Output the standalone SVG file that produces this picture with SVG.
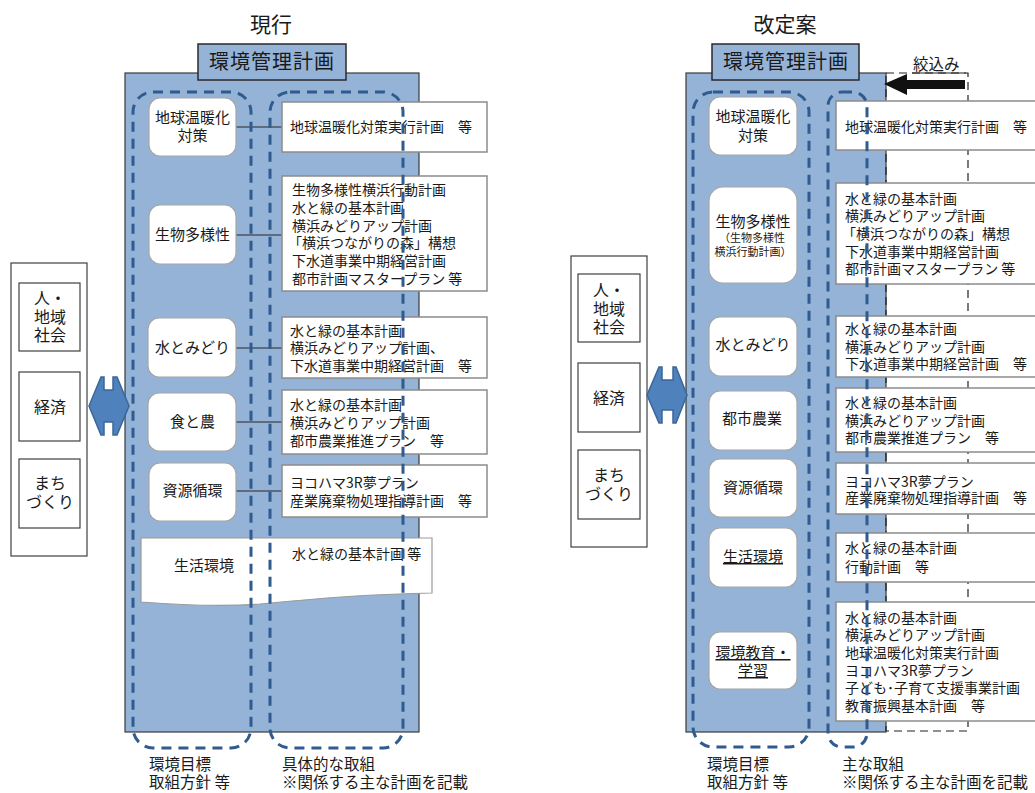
<svg xmlns="http://www.w3.org/2000/svg" width="1035" height="793" viewBox="0 0 1035 793">
<defs>
<style>
text{font-family:"Noto Sans CJK JP","Noto Sans",sans-serif;fill:#1a1a1a}
.t21{font-size:21px;text-anchor:middle}
.hd{font-size:20px;text-anchor:middle;letter-spacing:1px}
.n15{font-size:15px;text-anchor:middle}
.n11{font-size:11px;text-anchor:middle}
.p14{font-size:14px}
.s16{font-size:16px;text-anchor:middle}
.b16{font-size:15.5px}
.blue{fill:#95b3d7;stroke:#3a3a3a;stroke-width:1.2}
.head{fill:#95b3d7;stroke:#2a2a2a;stroke-width:1.5}
.node{fill:#fff;stroke:#a6a6a6;stroke-width:1.2}
.plan{fill:#fff;stroke:#8c8c8c;stroke-width:1.5}
.box{fill:#fff;stroke:#404040;stroke-width:1.2}
.grp{fill:none;stroke:#2f5b8f;stroke-width:3;stroke-dasharray:10 7}
.con{stroke:#262626;stroke-width:1.2}
.arr{fill:#4f81bd;stroke:#3b6698;stroke-width:1.5}
.ul{text-decoration:underline}
</style>
</defs>

<!-- ================= LEFT PANEL (現行) ================= -->
<text class="t21" x="271" y="32">現行</text>
<rect class="blue" x="125" y="73" width="294" height="659"/>
<g id="L-header"><rect class="head" x="198" y="44" width="148" height="36"/><text class="hd" x="272" y="69">環境管理計画</text></g>

<g id="L-society">
<rect class="box" x="11" y="263" width="76" height="293"/>
<rect class="box" x="19" y="283" width="61" height="68"/>
<text class="s16"><tspan x="50" y="304">人・</tspan><tspan x="50" y="323">地域</tspan><tspan x="50" y="341">社会</tspan></text>
<rect class="box" x="19" y="372" width="61" height="69"/>
<text class="s16" x="50" y="413">経済</text>
<rect class="box" x="19" y="459" width="61" height="69"/>
<text class="s16"><tspan x="50" y="489">まち</tspan><tspan x="50" y="508">づくり</tspan></text>
</g>
<g id="L-arrow"><polygon class="arr" points="89,406 101,377 104,377 104,390 113,390 113,377 117,377 129,406 117,435 113,435 113,422 104,422 104,435 101,435"/></g>

<g id="connectors">
<line class="con" x1="236" y1="127" x2="282" y2="127"/>
<line class="con" x1="236" y1="235" x2="282" y2="235"/>
<line class="con" x1="236" y1="348" x2="282" y2="348"/>
<line class="con" x1="236" y1="422" x2="282" y2="422"/>
<line class="con" x1="236" y1="491" x2="282" y2="491"/>
<line class="con" x1="797" y1="127" x2="836" y2="127"/>
<line class="con" x1="797" y1="235" x2="836" y2="235"/>
<line class="con" x1="797" y1="346" x2="836" y2="346"/>
<line class="con" x1="797" y1="420" x2="836" y2="420"/>
<line class="con" x1="797" y1="489" x2="836" y2="489"/>
<line class="con" x1="797" y1="558" x2="836" y2="558"/>
<line class="con" x1="797" y1="662" x2="836" y2="662"/>
</g>

<g id="L-n1"><rect class="node" x="149" y="98" width="87" height="58" rx="11"/><text class="n15"><tspan x="192.5" y="123">地球温暖化</tspan><tspan x="192.5" y="141">対策</tspan></text></g>
<g id="L-p1"><rect class="plan" x="282" y="102" width="205" height="50"/><text class="p14" x="290" y="132">地球温暖化対策実行計画　等</text></g>

<g id="L-n2"><rect class="node" x="149" y="205" width="87" height="59" rx="11"/><text class="n15" x="192.5" y="240">生物多様性</text></g>
<g id="L-p2"><rect class="plan" x="282" y="176" width="205" height="115"/>
<text class="p14"><tspan x="292" y="195">生物多様性横浜行動計画</tspan><tspan x="292" y="213">水と緑の基本計画</tspan><tspan x="292" y="231">横浜みどりアップ計画</tspan><tspan x="288" y="248">「横浜つながりの森」構想</tspan><tspan x="292" y="266">下水道事業中期経営計画</tspan><tspan x="292" y="284">都市計画マスタープラン  等</tspan></text></g>

<g id="L-n3"><rect class="node" x="148" y="318" width="88" height="59" rx="11"/><text class="n15" x="192.5" y="353">水とみどり</text></g>
<g id="L-p3"><rect class="plan" x="282" y="317" width="205" height="61"/>
<text class="p14"><tspan x="290" y="336">水と緑の基本計画</tspan><tspan x="290" y="353">横浜みどりアップ計画、</tspan><tspan x="290" y="371">下水道事業中期経営計画　等</tspan></text></g>

<g id="L-n4"><rect class="node" x="148" y="393" width="88" height="58" rx="11"/><text class="n15" x="192.5" y="427">食と農</text></g>
<g id="L-p4"><rect class="plan" x="282" y="390" width="205" height="64"/>
<text class="p14"><tspan x="290" y="410">水と緑の基本計画</tspan><tspan x="290" y="428">横浜みどりアップ計画</tspan><tspan x="290" y="446">都市農業推進プラン　等</tspan></text></g>

<g id="L-n5"><rect class="node" x="149" y="463" width="87" height="58" rx="11"/><text class="n15" x="192.5" y="496">資源循環</text></g>
<g id="L-p5"><rect class="plan" x="282" y="465" width="205" height="52"/>
<text class="p14"><tspan x="290" y="488">ヨコハマ3R夢プラン</tspan><tspan x="290" y="506">産業廃棄物処理指導計画　等</tspan></text></g>

<g id="L-n6"><path d="M141,538 H432 V593 C370,594 310,599 260,604 C220,607 180,605 141,602 Z" fill="#fff" stroke="#9a9a9a" stroke-width="1.2"/>
<text class="n15" x="204" y="571">生活環境</text>
<text class="p14" x="292" y="559">水と緑の基本計画 等</text></g>

<g id="L-groups">
<rect class="grp" x="133" y="92" width="118" height="656" rx="20"/>
<rect class="grp" x="270" y="92" width="133" height="656" rx="20"/>
</g>
<g id="L-labels">
<text class="b16"><tspan x="149" y="770">環境目標</tspan><tspan x="149" y="788">取組方針  等</tspan></text>
<text class="b16"><tspan x="282" y="770">具体的な取組</tspan><tspan x="282" y="788">※関係する主な計画を記載</tspan></text>
</g>

<!-- ================= RIGHT PANEL (改定案) ================= -->
<text class="t21" x="785" y="32">改定案</text>
<rect class="blue" x="686" y="73" width="200" height="659"/>
<rect x="886" y="73" width="82" height="658" fill="none" stroke="#222" stroke-width="1.2" stroke-dasharray="8 5"/>
<g id="R-header"><rect class="head" x="712" y="44" width="147" height="36"/><text class="hd" x="786" y="69">環境管理計画</text></g>

<g id="R-narrow"><text class="b16" x="913" y="70">絞込み</text><line x1="912" y1="73" x2="966" y2="73" stroke="#222" stroke-width="1.2"/>
<polygon points="884,84 907,74 907,80 965,80 965,89 907,89 907,95" fill="#111"/></g>

<g id="R-society">
<rect class="box" x="571" y="256" width="76" height="291"/>
<rect class="box" x="578" y="274" width="62" height="68"/>
<text class="s16"><tspan x="609" y="296">人・</tspan><tspan x="609" y="315">地域</tspan><tspan x="609" y="333">社会</tspan></text>
<rect class="box" x="578" y="363" width="62" height="69"/>
<text class="s16" x="609" y="404">経済</text>
<rect class="box" x="578" y="450" width="62" height="69"/>
<text class="s16"><tspan x="609" y="481">まち</tspan><tspan x="609" y="500">づくり</tspan></text>
</g>
<g id="R-arrow"><polygon class="arr" points="647,395 659,367 662,367 662,380 673,380 673,367 676,367 687,395 676,423 673,423 673,410 662,410 662,423 659,423"/></g>

<g id="R-n1"><rect class="node" x="709" y="97" width="88" height="58" rx="11"/><text class="n15"><tspan x="753" y="122">地球温暖化</tspan><tspan x="753" y="141">対策</tspan></text></g>
<g id="R-p1"><rect class="plan" x="836" y="101" width="210" height="49"/><text class="p14" x="845" y="132">地球温暖化対策実行計画　等</text></g>

<g id="R-n2"><rect class="node" x="709" y="187" width="88" height="96" rx="14"/><text class="n15" x="753" y="227">生物多様性</text><text class="n11"><tspan x="752" y="242">（生物多様性</tspan><tspan x="753" y="256">横浜行動計画）</tspan></text></g>
<g id="R-p2"><rect class="plan" x="836" y="183" width="210" height="101"/>
<text class="p14"><tspan x="845" y="204">水と緑の基本計画</tspan><tspan x="845" y="221">横浜みどりアップ計画</tspan><tspan x="842" y="239">「横浜つながりの森」構想</tspan><tspan x="845" y="257">下水道事業中期経営計画</tspan><tspan x="845" y="274">都市計画マスタープラン  等</tspan></text></g>

<g id="R-n3"><rect class="node" x="709" y="317" width="88" height="59" rx="11"/><text class="n15" x="753" y="350">水とみどり</text></g>
<g id="R-p3"><rect class="plan" x="836" y="316" width="210" height="61"/>
<text class="p14"><tspan x="845" y="334">水と緑の基本計画</tspan><tspan x="845" y="352">横浜みどりアップ計画</tspan><tspan x="845" y="369">下水道事業中期経営計画　等</tspan></text></g>

<g id="R-n4"><rect class="node" x="709" y="391" width="88" height="59" rx="11"/><text class="n15" x="752" y="424">都市農業</text></g>
<g id="R-p4"><rect class="plan" x="836" y="388" width="210" height="64"/>
<text class="p14"><tspan x="845" y="408">水と緑の基本計画</tspan><tspan x="845" y="426">横浜みどりアップ計画</tspan><tspan x="845" y="443">都市農業推進プラン　等</tspan></text></g>

<g id="R-n5"><rect class="node" x="709" y="459" width="88" height="58" rx="11"/><text class="n15" x="753" y="493">資源循環</text></g>
<g id="R-p5"><rect class="plan" x="836" y="463" width="210" height="51"/>
<text class="p14"><tspan x="845" y="487">ヨコハマ3R夢プラン</tspan><tspan x="845" y="503">産業廃棄物処理指導計画　等</tspan></text></g>

<g id="R-n6"><rect class="node" x="709" y="528" width="88" height="59" rx="11"/><text class="n15 ul" x="753" y="562">生活環境</text></g>
<g id="R-p6"><rect class="plan" x="836" y="533" width="210" height="49"/>
<text class="p14"><tspan x="845" y="553">水と緑の基本計画</tspan><tspan x="845" y="572">行動計画　等</tspan></text></g>

<g id="R-n7"><rect class="node" x="709" y="632" width="88" height="57" rx="11"/><text class="n15 ul"><tspan x="753" y="658">環境教育・</tspan><tspan x="753" y="676">学習</tspan></text></g>
<g id="R-p7"><rect class="plan" x="836" y="602" width="210" height="119"/>
<text class="p14"><tspan x="845" y="623">水と緑の基本計画</tspan><tspan x="845" y="640">横浜みどりアップ計画</tspan><tspan x="845" y="658">地球温暖化対策実行計画</tspan><tspan x="845" y="676">ヨコハマ3R夢プラン</tspan><tspan x="845" y="693">子ども･子育て支援事業計画</tspan><tspan x="845" y="711">教育振興基本計画　等</tspan></text></g>

<g id="R-groups">
<rect class="grp" x="693" y="92" width="116" height="655" rx="20"/>
<rect class="grp" x="828" y="92" width="39" height="655" rx="14"/>
</g>
<g id="R-labels">
<text class="b16"><tspan x="707" y="770">環境目標</tspan><tspan x="707" y="788">取組方針  等</tspan></text>
<text class="b16"><tspan x="842" y="770">主な取組</tspan><tspan x="842" y="788">※関係する主な計画を記載</tspan></text>
</g>
</svg>
